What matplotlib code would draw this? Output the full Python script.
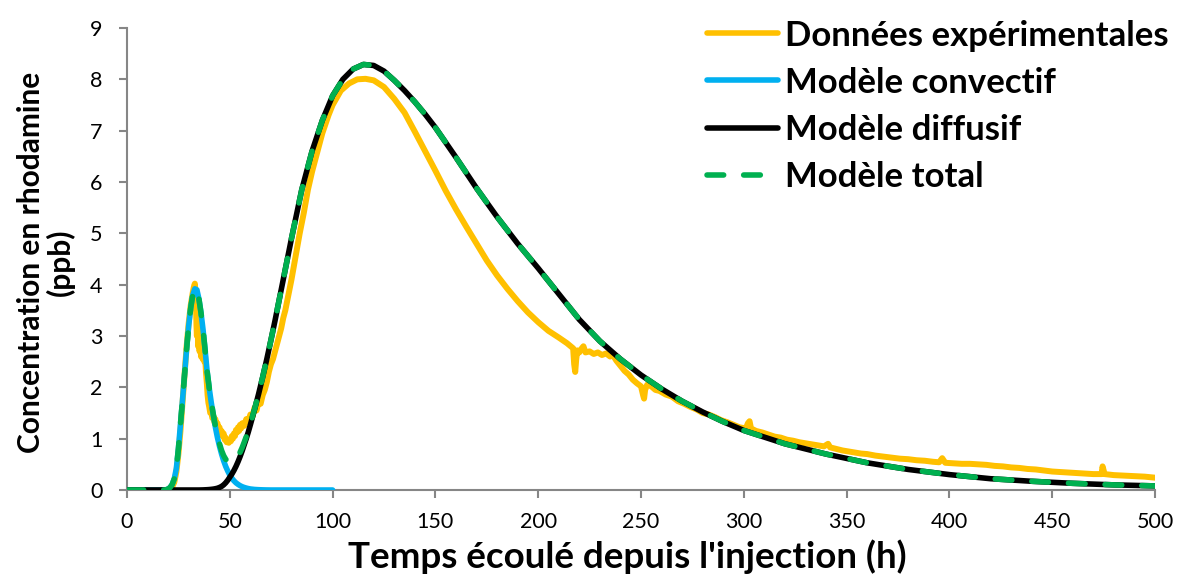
import numpy as np
import matplotlib
matplotlib.use("Agg")
import matplotlib.pyplot as plt

# --- Model time grid (h) -------------------------------------------------
t_model = [0, 10, 18, 19, 20, 21, 22, 23, 24, 25, 26, 27, 28, 29, 30, 31, 32,
           33, 34, 35, 36, 37, 38, 39, 40, 41, 42, 43, 44, 45, 46, 47, 48, 49,
           50, 51, 52, 53, 54, 55, 56, 57, 58, 59, 60, 62, 64, 66, 68, 70, 72,
           74, 76, 78, 80, 85, 90, 95, 100, 105, 110, 115, 120, 125, 130, 135,
           140, 145, 150, 160, 170, 180, 190, 200, 210, 220, 230, 240, 250, 260,
           270, 280, 290, 300, 320, 340, 360, 380, 400, 420, 440, 460, 480, 500]

# Convective model (ppb), defined up to 100 h
conv_model = [0, 0, 0, 0.005, 0.02, 0.05, 0.11, 0.22, 0.42, 0.8, 1.28, 1.75,
              2.25, 2.75, 3.2, 3.55, 3.8, 3.92, 3.9, 3.72, 3.45, 3.12, 2.72,
              2.3, 1.98, 1.7, 1.45, 1.22, 1.02, 0.85, 0.7, 0.57, 0.46, 0.37,
              0.29, 0.23, 0.18, 0.14, 0.11, 0.085, 0.065, 0.05, 0.038, 0.028,
              0.02, 0.011, 0.006, 0.003, 0.001, 0, 0, 0, 0, 0, 0, 0, 0, 0, 0]

# Diffusive model (ppb)
diff_model = [0, 0, 0, 0, 0, 0, 0, 0, 0, 0, 0, 0, 0, 0, 0, 0, 0, 0, 0, 0,
              0.001, 0.002, 0.004, 0.006, 0.009, 0.013, 0.018, 0.025, 0.035,
              0.05, 0.07, 0.1, 0.14, 0.19, 0.25, 0.31, 0.38, 0.46, 0.55, 0.65,
              0.76, 0.88, 1.0, 1.13, 1.27, 1.56, 1.87, 2.2, 2.55, 2.92, 3.3,
              3.7, 4.1, 4.5, 4.9, 5.85, 6.6, 7.2, 7.68, 8.0, 8.2, 8.29, 8.27,
              8.16, 7.98, 7.78, 7.56, 7.32, 7.06, 6.48, 5.88, 5.32, 4.8, 4.32,
              3.82, 3.32, 2.9, 2.55, 2.24, 1.97, 1.73, 1.52, 1.33, 1.16, 0.9,
              0.7, 0.53, 0.4, 0.3, 0.22, 0.17, 0.13, 0.1, 0.08]

# --- Field measurements ---------------------------------------------------
t_exp = [0, 20, 21, 22, 23, 24, 25, 26, 27, 28, 29, 30, 31, 32, 32.5, 33,
         33.5, 33.8, 34, 34.3, 34.6, 35, 35.3, 35.6, 36, 36.4, 36.8, 37.2,
         37.6, 38, 38.4, 38.8, 39.2, 39.6, 40, 40.5, 41, 41.5, 42, 42.5, 43,
         43.5, 44, 44.5, 45, 45.5, 46, 46.5, 47, 47.5, 48, 48.5, 49, 49.5, 50,
         50.5, 51, 51.5, 52, 52.5, 53, 53.5, 54, 54.5, 55, 55.5, 56, 57, 58,
         59, 60, 61, 62, 63, 64, 65, 66, 67, 68, 69, 70, 71, 72, 73, 74, 75,
         76, 77, 78, 80, 82, 84, 86, 88, 90, 92, 95, 98, 100, 104, 108, 112,
         116, 120, 125, 130, 135, 140, 145, 150, 155, 160, 165, 170, 175, 180,
         185, 190, 195, 200, 205, 210, 214, 217, 217.5, 218, 218.5, 219, 220,
         221, 222, 223, 225, 227, 229, 231, 233, 235, 236, 238, 240, 242, 244,
         246, 248, 250, 251, 251.5, 252, 253, 255, 257, 259, 262, 265, 268,
         271, 274, 277, 280, 283, 286, 289, 292, 295, 298, 301, 302, 302.8,
         303.5, 306, 309, 312, 315, 318, 321, 324, 327, 330, 333, 336, 339,
         341, 342, 345, 348, 351, 354, 357, 360, 364, 368, 372, 376, 380, 384,
         388, 392, 395, 396.5, 398, 402, 406, 410, 414, 418, 422, 426, 430,
         434, 438, 442, 446, 450, 454, 458, 462, 466, 470, 474, 474.5, 475.5,
         480, 485, 490, 495, 500]
c_exp = [0, 0, 0.02, 0.06, 0.15, 0.35, 0.7, 1.15, 1.7, 2.25, 2.8, 3.25, 3.6,
         3.85, 3.95, 4.02, 3.7, 3.2, 3.0, 3.5, 2.8, 3.1, 2.7, 2.95, 2.6, 2.85,
         2.55, 2.75, 2.5, 2.6, 2.3, 2.1, 1.85, 1.7, 1.62, 1.5, 1.55, 1.4, 1.45,
         1.32, 1.38, 1.25, 1.3, 1.18, 1.22, 1.12, 1.15, 1.05, 1.1, 0.98, 1.02,
         0.93, 0.97, 0.92, 0.98, 0.95, 1.05, 1.0, 1.1, 1.05, 1.17, 1.12, 1.22,
         1.15, 1.27, 1.2, 1.3, 1.25, 1.38, 1.33, 1.47, 1.42, 1.6, 1.55, 1.72,
         1.68, 1.85, 1.95, 2.1, 2.3, 2.45, 2.55, 2.7, 2.85, 3.0, 3.15, 3.35,
         3.5, 3.7, 4.1, 4.55, 5.0, 5.4, 5.85, 6.2, 6.5, 6.95, 7.3, 7.5, 7.78,
         7.92, 8.0, 8.01, 7.98, 7.85, 7.62, 7.35, 6.98, 6.6, 6.22, 5.83, 5.47,
         5.13, 4.8, 4.47, 4.18, 3.92, 3.68, 3.46, 3.27, 3.1, 2.97, 2.86, 2.76,
         2.45, 2.3, 2.55, 2.72, 2.68, 2.75, 2.8, 2.68, 2.7, 2.65, 2.68, 2.63,
         2.66, 2.6, 2.65, 2.52, 2.42, 2.32, 2.25, 2.15, 2.08, 2.02, 1.85, 1.78,
         1.95, 2.05, 2.02, 1.95, 1.93, 1.86, 1.82, 1.73, 1.68, 1.62, 1.57, 1.5,
         1.47, 1.42, 1.36, 1.32, 1.27, 1.22, 1.2, 1.3, 1.34, 1.2, 1.15, 1.12,
         1.08, 1.04, 1.02, 0.98, 0.96, 0.93, 0.91, 0.89, 0.87, 0.85, 0.9, 0.83,
         0.8, 0.77, 0.75, 0.73, 0.71, 0.7, 0.67, 0.65, 0.63, 0.61, 0.6, 0.58,
         0.57, 0.55, 0.54, 0.62, 0.53, 0.52, 0.51, 0.51, 0.5, 0.49, 0.47, 0.46,
         0.44, 0.43, 0.41, 0.4, 0.38, 0.36, 0.35, 0.34, 0.33, 0.32, 0.31, 0.31,
         0.46, 0.31, 0.29, 0.28, 0.27, 0.26, 0.24]

x_ticks = [0, 50, 100, 150, 200, 250, 300, 350, 400, 450, 500]
y_ticks = [0, 1, 2, 3, 4, 5, 6, 7, 8, 9]

series_labels = ["Données expérimentales", "Modèle convectif",
                 "Modèle diffusif", "Modèle total"]
x_label = "Temps écoulé depuis l'injection (h)"
y_label = "Concentration en rhodamine\n(ppb)"

YELLOW = "#FFC000"
BLUE = "#00B0F0"
BLACK = "#000000"
GREEN = "#00B050"
AXIS_GREY = "#868686"

plt.rcParams["font.family"] = ["Lato", "DejaVu Sans"]

fig = plt.figure(figsize=(11.8, 5.76), dpi=100)
ax = fig.add_axes([127 / 1180, 1 - 490 / 576, (1155 - 127) / 1180, (490 - 28) / 576])

t_m = np.array(t_model, dtype=float)
conv = np.array(conv_model, dtype=float)
diff = np.array(diff_model, dtype=float)
n_conv = len(conv)
total = diff.copy()
total[:n_conv] += conv

lw = 4.0
dash_pattern = (0, (3.0, 3.6))
ax.plot(t_exp, c_exp, color=YELLOW, lw=lw + 0.3, solid_joinstyle="round",
        solid_capstyle="round", label=series_labels[0], zorder=2)
ax.plot(t_m[:n_conv], conv, color=BLUE, lw=lw, solid_capstyle="round",
        label=series_labels[1], zorder=3)
ax.plot(t_m, diff, color=BLACK, lw=lw, solid_capstyle="round",
        label=series_labels[2], zorder=4)
ax.plot(t_m, total, color=GREEN, lw=lw, linestyle=dash_pattern,
        dash_capstyle="round", label=series_labels[3], zorder=5)

ax.set_xlim(0, 500)
ax.set_ylim(0, 9)
ax.set_xticks(x_ticks)
ax.set_yticks(y_ticks)
ax.tick_params(axis="both", colors=AXIS_GREY, length=5.5, width=1.5,
               labelsize=15.5, labelcolor="black", direction="out")
ax.tick_params(axis="x", pad=10)
ax.tick_params(axis="y", pad=12)
for side in ("top", "right"):
    ax.spines[side].set_visible(False)
for side in ("left", "bottom"):
    ax.spines[side].set_color(AXIS_GREY)
    ax.spines[side].set_linewidth(1.5)

fig.text(627.5 / 1180, 1 - 568 / 576, x_label, ha="center",
         va="baseline", fontsize=26.5, fontweight="bold")
fig.text(46 / 1180, 1 - 262 / 576, y_label, ha="center", va="center",
         rotation=90, fontsize=21.5, fontweight="bold", linespacing=1.0,
         multialignment="center")

leg = ax.legend(loc="upper left", bbox_to_anchor=(707 / 1180, 1 - 19.5 / 576),
                bbox_transform=fig.transFigure, frameon=False,
                prop={"size": 25, "weight": "bold"}, handlelength=2.05,
                handletextpad=0.2, labelspacing=0.435, borderpad=0,
                borderaxespad=0)
for handle in leg.get_lines():
    handle.set_linewidth(lw)

fig.savefig("out.png", dpi=100)
